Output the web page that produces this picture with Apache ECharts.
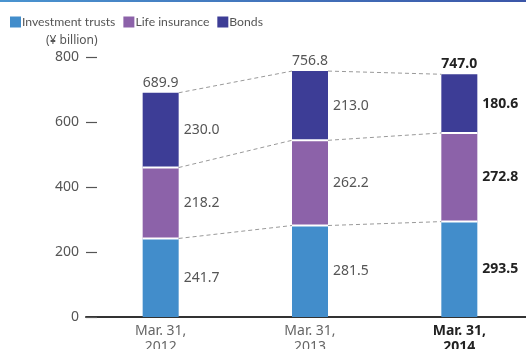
<!DOCTYPE html>
<html>
<head>
<meta charset="utf-8">
<script src="https://cdn.jsdelivr.net/npm/echarts@6/dist/echarts.min.js"></script>
<style>
  html, body { margin: 0; padding: 0; background: #fff; }
  #chart { width: 526px; height: 349px; }
</style>
</head>
<body>
<div id="chart"></div>
<script>
// Balance breakdown by product, ¥ billion
const categories = ['Mar. 31,\n2012', 'Mar. 31,\n2013', 'Mar. 31,\n2014'];
const investmentTrusts = [241.7, 281.5, 293.5];
const lifeInsurance = [218.2, 262.2, 272.8];
const bonds = [230.0, 213.0, 180.6];
const totals = [689.9, 756.8, 747.0];
const yTicks = [0, 200, 400, 600, 800];

const FONT = '"Noto Sans", sans-serif';
const LEGEND_FONT = 'Lato, "Noto Sans", sans-serif';
const COLORS = { inv: '#428dcb', life: '#8c62a9', bonds: '#3d3d96' };
const LATEST = categories.length - 1;
const BAR_W = 36;

function labelStyle(i) {
  return i === LATEST
    ? { fontWeight: 'bold', color: '#222' }
    : { fontWeight: 'normal', color: '#555' };
}

function barData(values) {
  return values.map((v, i) => ({ value: v, label: labelStyle(i) }));
}

// cumulative levels of each stack boundary
function levels(i) {
  const a = investmentTrusts[i];
  const b = a + lifeInsurance[i];
  const c = b + bonds[i];
  return [a, b, c];
}

const barLabel = {
  show: true,
  position: 'right',
  distance: 5,
  fontFamily: FONT,
  fontSize: 14,
  formatter: p => p.value.toFixed(1)
};

const chart = echarts.init(document.getElementById('chart'), null, { renderer: 'canvas' });

chart.setOption({
  animation: false,
  textStyle: { fontFamily: FONT },
  graphic: [
    {
      type: 'rect',
      left: 0, top: 0,
      shape: { width: 526, height: 2 },
      style: {
        fill: new echarts.graphic.LinearGradient(0, 0, 1, 0, [
          { offset: 0, color: '#4a94d0' },
          { offset: 1, color: '#3b56a8' }
        ])
      }
    },
    {
      type: 'text',
      left: 46, top: 35,
      style: { text: '(¥ billion)', fill: '#555', fontSize: 12, fontFamily: FONT }
    }
  ],
  legend: {
    left: 5, top: 11,
    icon: 'rect',
    itemWidth: 11, itemHeight: 11,
    itemGap: 8,
    textStyle: { color: '#555', fontSize: 12.2, fontFamily: LEGEND_FONT, padding: [0, 0, 0, -4] },
    data: ['Investment trusts', 'Life insurance', 'Bonds']
  },
  grid: { left: 86, right: -8, top: 57, bottom: 32, outerBoundsMode: 'none' },
  xAxis: {
    type: 'category',
    data: categories,
    axisTick: { show: false },
    axisLine: { lineStyle: { color: '#333', width: 2 } },
    axisLabel: {
      margin: 6,
      lineHeight: 16,
      fontSize: 14,
      fontFamily: FONT,
      formatter: (v, i) => {
        const key = i === LATEST ? 'b' : 'a';
        return v.split('\n').map(s => '{' + key + '|' + s + '}').join('\n');
      },
      rich: {
        a: { color: '#666', fontSize: 14, lineHeight: 16, fontFamily: FONT },
        b: { color: '#222', fontSize: 14, lineHeight: 16, fontWeight: 'bold', fontFamily: FONT }
      }
    }
  },
  yAxis: {
    type: 'value',
    min: yTicks[0],
    max: yTicks[yTicks.length - 1],
    interval: yTicks[1] - yTicks[0],
    axisLine: { show: false },
    axisTick: { show: true, inside: true, length: 11, lineStyle: { color: '#555', width: 1.2 } },
    splitLine: { show: false },
    axisLabel: { margin: 7, color: '#555', fontSize: 14, fontFamily: FONT }
  },
  series: [
    {
      name: 'Investment trusts', type: 'bar', stack: 'total', barWidth: BAR_W,
      itemStyle: { color: COLORS.inv }, label: barLabel, data: barData(investmentTrusts)
    },
    {
      name: 'Life insurance', type: 'bar', stack: 'total', barWidth: BAR_W,
      itemStyle: { color: COLORS.life }, label: barLabel, data: barData(lifeInsurance)
    },
    {
      name: 'Bonds', type: 'bar', stack: 'total', barWidth: BAR_W,
      itemStyle: { color: COLORS.bonds }, label: barLabel, data: barData(bonds)
    },
    {
      // segment separators, dashed connectors between bars and total labels
      name: 'overlay', type: 'custom', z: 5,
      data: totals.map((t, i) => [i, t]),
      encode: { x: 0, y: 1 },
      renderItem: (params, api) => {
        const i = params.dataIndex;
        const half = BAR_W / 2;
        const lv = levels(i);
        const children = [];
        // white gaps between stacked segments
        lv.slice(0, 2).forEach(v => {
          const p = api.coord([i, v]);
          children.push({
            type: 'line',
            shape: { x1: p[0] - half, y1: p[1], x2: p[0] + half, y2: p[1] },
            style: { stroke: '#fff', lineWidth: 2 }
          });
        });
        // dashed connectors to the next bar
        if (i < categories.length - 1) {
          const nx = levels(i + 1);
          lv.forEach((v, k) => {
            const a = api.coord([i, v]);
            const b = api.coord([i + 1, nx[k]]);
            children.push({
              type: 'line',
              shape: { x1: a[0] + half, y1: a[1], x2: b[0] - half, y2: b[1] },
              style: { stroke: '#999', lineWidth: 1, lineDash: [4, 3] }
            });
          });
        }
        // total above the bar
        const top = api.coord([i, api.value(1)]);
        const st = labelStyle(i);
        children.push({
          type: 'text',
          x: top[0], y: top[1] - 3,
          style: {
            text: totals[i].toFixed(1),
            fill: st.color,
            fontWeight: st.fontWeight,
            fontSize: 14,
            fontFamily: FONT,
            align: 'center',
            verticalAlign: 'bottom'
          }
        });
        return { type: 'group', children };
      }
    }
  ]
});
</script>
</body>
</html>
